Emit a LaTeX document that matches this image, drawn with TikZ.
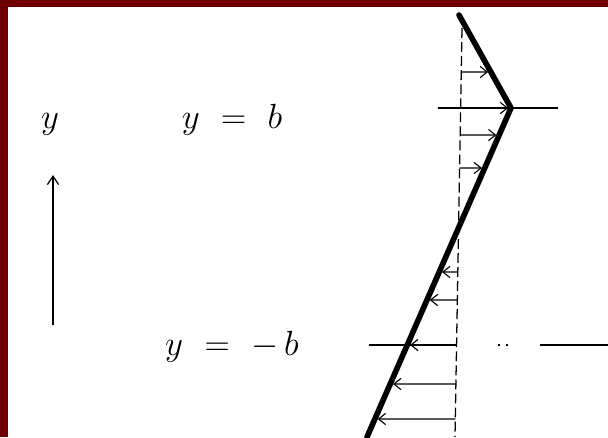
\documentclass[tikz,border=0pt]{standalone}
\usetikzlibrary{calc,arrows.meta}
\definecolor{bordeaux}{RGB}{112,0,0}
\begin{document}
\begin{tikzpicture}[x=0.025cm,y=-0.025cm]
	% Styles (MODIFIABLES)
	\tikzstyle{profil}=[line width=4pt,line cap=round,line join=round]
	\tikzstyle{trait}=[line width=0.9pt]
	\tikzstyle{tirets}=[line width=0.9pt,dash pattern=on 7pt off 3pt]
	\tikzstyle{fleche}=[line width=0.8pt,-{Straight Barb[length=5pt,width=8pt]},shorten >=2pt]
	\tikzstyle{axe}=[line width=0.9pt,-{Straight Barb[length=6pt,width=8pt]}]
	\tikzstyle{etiquette}=[font=\fontsize{29}{34}\selectfont,execute at begin node={\thickmuskip=11mu\relax}]
	% Cadre
	\useasboundingbox (0,0) rectangle (608,437);
	\fill[bordeaux] (0,0) rectangle (608,7);
	\fill[bordeaux] (0,0) rectangle (8,437);
	% Points du profil et de l'axe en tirets
	\coordinate (Ph) at (459,15);
	\coordinate (Pm) at (511,108);
	\coordinate (Pb) at (367,437);
	\coordinate (Th) at (462,28);
	\coordinate (Tb) at (455,437);
	% Noeuds
	\node[etiquette] (ly) at (50,124) {$y$};
	\node[etiquette] (lb) at (232,120) {$y = b$};
	\node[etiquette] (lmb) at (232,347) {$y = -\mkern3mu b$};
	\coordinate (Aa) at (53,325);
	\coordinate (Ab) at (53,175);
	\coordinate (Bg) at (438,108);
	\coordinate (Bd) at (558,108);
	\coordinate (Cg) at (369,345);
	\coordinate (Cm) at (457,345);
	\coordinate (Ca) at (498,345);
	\coordinate (Cb) at (510,345);
	\coordinate (Cc) at (540,345);
	\coordinate (Cd) at (608,345);
	% Arcs
	\draw[axe] (Aa)--(Ab);
	\draw[tirets] (Th)--(Tb);
	\draw[trait] (Bg)--(Bd);
	\draw[trait] (Cg)--(Cm);
	\draw[line width=1.2pt,dash pattern=on 1.5pt off 4pt] (Ca)--(Cb);
	\draw[trait] (Cc)--(Cd);
	% Fleches du profil
	\foreach \yy [count=\i] in {72,108}{
		\coordinate (D\i) at ($(Th)!{(\yy-28)/409}!(Tb)$);
		\coordinate (V\i) at ($(Ph)!{(\yy-15)/93}!(Pm)$);
		\draw[fleche] (D\i)--(V\i);
	}
	\foreach \yy [count=\i] in {135,168,272,300,345,384,419}{
		\coordinate (E\i) at ($(Th)!{(\yy-28)/409}!(Tb)$);
		\coordinate (W\i) at ($(Pm)!{(\yy-108)/329}!(Pb)$);
		\draw[fleche] (E\i)--(W\i);
	}
	\draw[profil] (Ph)--(Pm)--(Pb);
\end{tikzpicture}
\end{document}
